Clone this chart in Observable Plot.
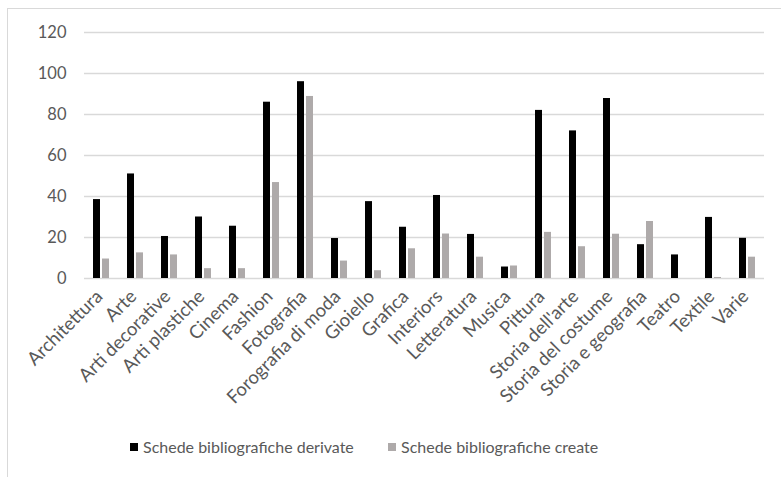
<!DOCTYPE html>
<html>
<head>
<meta charset="utf-8">
<script src="https://cdn.jsdelivr.net/npm/d3@7"></script>
<script src="https://cdn.jsdelivr.net/npm/@observablehq/plot@0.6"></script>
<style>
  html, body { margin: 0; padding: 0; background: #fff; }
  body { width: 781px; height: 477px; position: relative; overflow: hidden; font-family: Lato, "Open Sans", sans-serif; }
  #frameTop { position: absolute; left: 7px; top: 8px; width: 774px; height: 0; border-top: 1.5px solid #d9d9d9; }
  #frameLeft { position: absolute; left: 7px; top: 8px; width: 0; height: 469px; border-left: 1.5px solid #d9d9d9; }
  #chart { position: absolute; left: 0; top: 0; }
  #legend { position: absolute; top: 437px; left: 0; width: 781px; height: 24px; font-size: 16px; color: #595959; }
  .item { position: absolute; top: 0; display: flex; align-items: center; white-space: nowrap; }
  .sw { width: 8px; height: 8px; margin-right: 5px; }
</style>
</head>
<body>
<div id="frameTop"></div>
<div id="frameLeft"></div>
<div id="chart"></div>
<div id="legend"></div>
<script>
const categories = ["Architettura","Arte","Arti decorative","Arti plastiche","Cinema","Fashion","Fotografia","Forografia di moda","Gioiello","Grafica","Interiors","Letteratura","Musica","Pittura","Storia dell'arte","Storia del costume","Storia e geografia","Teatro","Textile","Varie"];
const derivate = [38.5, 51, 20.5, 30, 25.5, 86, 96, 19.5, 37.5, 25, 40.5, 21.5, 5.6, 82, 72, 87.8, 16.5, 11.5, 29.8, 19.6];
const create   = [9.5, 12.5, 11.5, 4.8, 4.8, 46.8, 88.8, 8.5, 3.8, 14.5, 21.7, 10.4, 6.1, 22.5, 15.5, 21.6, 27.8, 0, 0.5, 10.4];
const seriesNames = ["Schede bibliografiche derivate", "Schede bibliografiche create"];
const seriesColors = ["#000000", "#aeaaaa"];
const yTicks = [0, 20, 40, 60, 80, 100, 120];

const table = [];
categories.forEach((c, i) => {
  table.push({category: c, series: seriesNames[0], value: derivate[i]});
  table.push({category: c, series: seriesNames[1], value: create[i]});
});

const chart = Plot.plot({
  width: 781,
  height: 420,
  marginLeft: 80,
  marginRight: 13,
  marginTop: 32,
  marginBottom: 142,
  style: {fontFamily: "Lato, 'Open Sans', sans-serif", background: "transparent"},
  fx: {domain: categories, padding: 0, axis: null},
  x: {domain: seriesNames, paddingInner: 0.2, paddingOuter: 0.82, axis: null},
  y: {domain: [0, 120], axis: null},
  color: {domain: seriesNames, range: seriesColors},
  marks: [
    Plot.ruleY(yTicks, {stroke: "#d9d9d9", strokeWidth: 1.5}),
    Plot.barY(table, {fx: "category", x: "series", y: "value", fill: "series"}),
    Plot.axisY({ticks: yTicks, tickSize: 0, tickPadding: 18, fontSize: 16.5, fill: "#595959", label: null}),
    Plot.axisFx({anchor: "bottom", tickRotate: -45, tickSize: 0, tickPadding: 15, dx: -2, fontSize: 18.5, fill: "#595959", label: null})
  ]
});
document.getElementById("chart").appendChild(chart);

const legend = document.getElementById("legend");
const lefts = [130, 388];
seriesNames.forEach((s, i) => {
  const item = document.createElement("div");
  item.className = "item";
  item.style.left = lefts[i] + "px";
  const sw = document.createElement("div");
  sw.className = "sw";
  sw.style.background = seriesColors[i];
  const t = document.createElement("span");
  t.textContent = s;
  item.appendChild(sw);
  item.appendChild(t);
  legend.appendChild(item);
});
</script>
</body>
</html>
